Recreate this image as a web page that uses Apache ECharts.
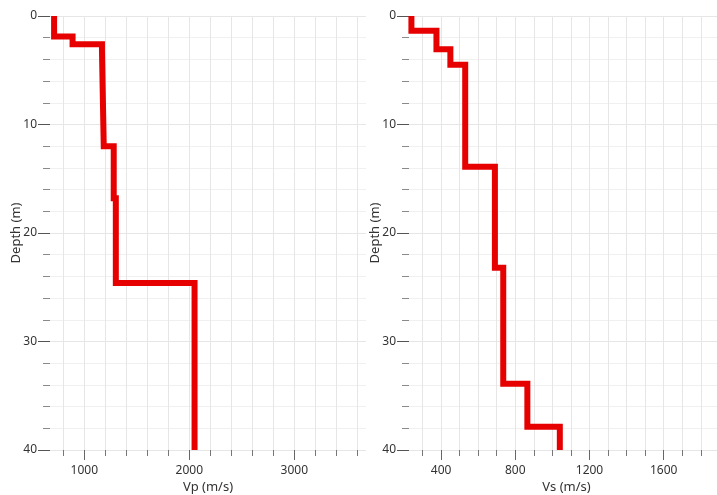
<!DOCTYPE html>
<html>
<head>
<meta charset="utf-8">
<script src="https://cdn.jsdelivr.net/npm/echarts@6/dist/echarts.min.js"></script>
<style>
html,body{margin:0;padding:0;background:#fff;}
#chart{width:717px;height:495px;}
</style>
</head>
<body>
<div id="chart"></div>
<script>
// ---- data ----
const maxDepth = 40;

const vpLayerTop = [0, 1.9, 2.6, 3.2, 12, 16.8, 24.6];
const vpValues   = [712, 888, 1168, 1185, 1280, 1300, 2050];

const vsLayerTop = [0, 1.35, 3.07, 4.5, 13.9, 23.2, 33.9, 37.85];
const vsValues   = [240, 375, 450, 530, 690, 735, 865, 1040];

const vpTickLabels = [1000, 2000, 3000];
const vpGridTicks  = [800, 1000, 1200, 1400, 1600, 1800, 2000, 2200, 2400, 2600, 2800, 3000, 3200, 3400, 3600];
const vsTickLabels = [400, 800, 1200, 1600];
const vsGridTicks  = [300, 400, 500, 600, 700, 800, 900, 1000, 1100, 1200, 1300, 1400, 1500, 1600, 1700, 1800, 1900];

const vpRange = [673, 3683];
const vsRange = [227, 1925];

// ---- build step profiles ----
function profile(tops, vals, bottom) {
  const pts = [];
  for (let i = 0; i < vals.length; i++) {
    const b = i + 1 < tops.length ? tops[i + 1] : bottom;
    pts.push([vals[i], tops[i]]);
    pts.push([vals[i], b]);
  }
  return pts;
}

const FONT = 'Noto Sans';
const labelColor = '#333';
const gridColor = '#e6e6e6';
const minorGridColor = '#f0f0f0';
const plotHeight = 434;

function yAxisDef(gridIndex) {
  return {
    type: 'value', gridIndex: gridIndex, inverse: true,
    min: 0, max: maxDepth, interval: 10,
    name: 'Depth (m)', nameLocation: 'middle', nameGap: 27, nameMoveOverlap: false,
    nameTextStyle: {fontFamily: FONT, fontSize: 13, color: labelColor},
    axisLine: {show: false, onZero: false},
    axisTick: {show: true, length: 12, lineStyle: {color: '#555'}},
    minorTick: {show: true, splitNumber: 5, length: 7, lineStyle: {color: '#8a8a8a'}},
    axisLabel: {fontFamily: FONT, fontSize: 12, color: labelColor, margin: 13,
                formatter: v => String(v)},
    splitLine: {show: true, lineStyle: {color: gridColor}},
    minorSplitLine: {show: true, lineStyle: {color: minorGridColor}}
  };
}

function xAxisMain(gridIndex, range, gridTicks, labels, name) {
  return {
    type: 'value', gridIndex: gridIndex, position: 'bottom',
    min: range[0], max: range[1],
    name: name, nameLocation: 'middle', nameGap: 31, nameMoveOverlap: false,
    nameTextStyle: {fontFamily: FONT, fontSize: 13, color: labelColor},
    axisLine: {show: false, onZero: false},
    axisTick: {show: true, length: 6, customValues: gridTicks, lineStyle: {color: '#777'}},
    axisLabel: {fontFamily: FONT, fontSize: 12, color: labelColor, margin: 15,
                customValues: labels, formatter: v => String(v)},
    splitLine: {show: true, lineStyle: {color: gridColor}}
  };
}

// second x axis on the same grid only for the longer ticks at the labelled values
function xAxisMajorTicks(gridIndex, range, labels) {
  return {
    type: 'value', gridIndex: gridIndex, position: 'top', offset: -plotHeight,
    min: range[0], max: range[1],
    axisLine: {show: false, onZero: false},
    axisTick: {show: true, inside: true, length: 10, customValues: labels, lineStyle: {color: '#666'}},
    axisLabel: {show: false},
    splitLine: {show: false}
  };
}

const lineStyle = {color: '#e60000', width: 6, join: 'miter', cap: 'butt'};

const option = {
  animation: false,
  backgroundColor: '#ffffff',
  grid: [
    {left: 50, top: 16, width: 316, height: plotHeight, outerBoundsMode: 'none', containLabel: false},
    {left: 409, top: 16, width: 315, height: plotHeight, outerBoundsMode: 'none', containLabel: false}
  ],
  xAxis: [
    xAxisMain(0, vpRange, vpGridTicks, vpTickLabels, 'Vp (m/s)'),
    xAxisMain(1, vsRange, vsGridTicks, vsTickLabels, 'Vs (m/s)'),
    xAxisMajorTicks(0, vpRange, vpTickLabels),
    xAxisMajorTicks(1, vsRange, vsTickLabels)
  ],
  yAxis: [yAxisDef(0), yAxisDef(1)],
  series: [
    {type: 'line', xAxisIndex: 0, yAxisIndex: 0, data: profile(vpLayerTop, vpValues, maxDepth),
     showSymbol: false, symbol: 'none', lineStyle: lineStyle, silent: true},
    {type: 'line', xAxisIndex: 1, yAxisIndex: 1, data: profile(vsLayerTop, vsValues, maxDepth),
     showSymbol: false, symbol: 'none', lineStyle: lineStyle, silent: true}
  ]
};

const chart = echarts.init(document.getElementById('chart'), null, {renderer: 'canvas'});
chart.setOption(option);
</script>
</body>
</html>
